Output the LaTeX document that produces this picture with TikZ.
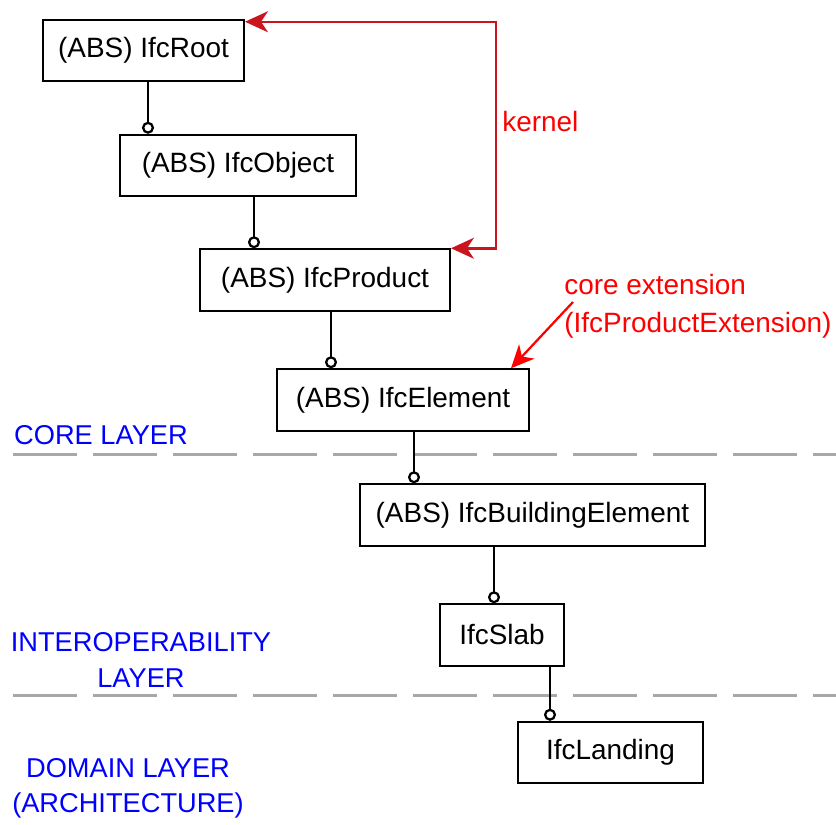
\documentclass[tikz,border=0pt]{standalone}
\usepackage{fontspec}
\setmainfont{Liberation Sans}
\usetikzlibrary{arrows.meta}
\newcommand\pxu{0.02cm}
\definecolor{kernelred}{RGB}{204,20,30}
\definecolor{notered}{RGB}{255,0,0}
\definecolor{layerblue}{RGB}{0,0,255}
\definecolor{layergray}{RGB}{168,168,168}
\tikzset{classbox/.style={draw=black,line width=0.04cm,minimum height=1.23cm,inner sep=0pt,
		font=\fontsize{15.9}{19}\selectfont},
	link/.style={line width=0.04cm,-{Circle[open,length=0.24cm,line width=0.045cm]}},
	layerline/.style={draw=layergray,line width=0.06cm,dash pattern=on 1.28cm off 0.32cm},
	layerlabel/.style={text=layerblue,align=center,inner sep=0pt,
		font=\fontsize{15.5}{20}\selectfont},
	note/.style={text=notered,inner sep=0pt,font=\fontsize{15.9}{21.6}\selectfont},
	redhead/.tip={Stealth[length=0.46cm,width=0.42cm,inset=0.14cm]}}

\begin{document}
\begin{tikzpicture}[x=0.02cm,y=-0.02cm]
	\clip (0,0) rectangle (836,825);

	% layer borders
	\draw[layerline] (13,454) -- (836,454);
	\draw[layerline] (13,695) -- (836,695);

	\node[classbox,minimum width=201*\pxu] (Root) at (143.5,50.5) {(ABS) IfcRoot};
	\node[classbox,minimum width=236*\pxu] (Object) at (238,165.5) {(ABS) IfcObject};
	\node[classbox,minimum width=250*\pxu] (Product) at (325,280) {(ABS) IfcProduct};
	\node[classbox,minimum width=252*\pxu] (Element) at (403,400) {(ABS) IfcElement};
	\node[classbox,minimum width=345*\pxu] (BuildingElement) at (532.5,515) {(ABS) IfcBuildingElement};
	\node[classbox,minimum width=124*\pxu] (Slab) at (502,635) {IfcSlab};
	\node[classbox,minimum width=185*\pxu] (Landing) at (610.5,752.5) {IfcLanding};

	\draw[link] ([xshift=4.5*\pxu]Root.south) -- ([xshift=4.5*\pxu]Root.south |- Object.north);
	\draw[link] ([xshift=16*\pxu]Object.south) -- ([xshift=16*\pxu]Object.south |- Product.north);
	\draw[link] ([xshift=6*\pxu]Product.south) -- ([xshift=6*\pxu]Product.south |- Element.north);
	\draw[link] ([xshift=11*\pxu]Element.south) -- ([xshift=11*\pxu]Element.south |- BuildingElement.north);
	\draw[link] ([xshift=-38.5*\pxu]BuildingElement.south) -- ([xshift=-38.5*\pxu]BuildingElement.south |- Slab.north);
	\draw[link] ([xshift=48*\pxu]Slab.south) -- ([xshift=48*\pxu]Slab.south |- Landing.north);

	% kernel
	\coordinate (kbend) at (496,0);
	\coordinate (ktop) at ([yshift=-3*\pxu]Root.north east);
	\draw[kernelred,line width=0.05cm,{redhead}-{redhead}] (Product.north east) -- (Product.north east -| kbend)
		-- (ktop -| kbend) -- (ktop);
	\node[note,anchor=west] (kernel) at (502,122) {kernel};

	% core extension
	\node[note,anchor=west,align=left] (coreext) at (564,306) {core extension\\(IfcProductExtension)};
	\coordinate (extstart) at (573,302);
	\draw[notered,line width=0.045cm,-{redhead}] (extstart) -- ([xshift=-19*\pxu]Element.north east);

	\node[layerlabel] (core) at (101,435) {CORE LAYER};
	\node[layerlabel] (interop) at (141,660) {INTEROPERABILITY\\LAYER};
	\node[layerlabel] (domain) at (128,788) {DOMAIN LAYER\\(ARCHITECTURE)};
\end{tikzpicture}
\end{document}
